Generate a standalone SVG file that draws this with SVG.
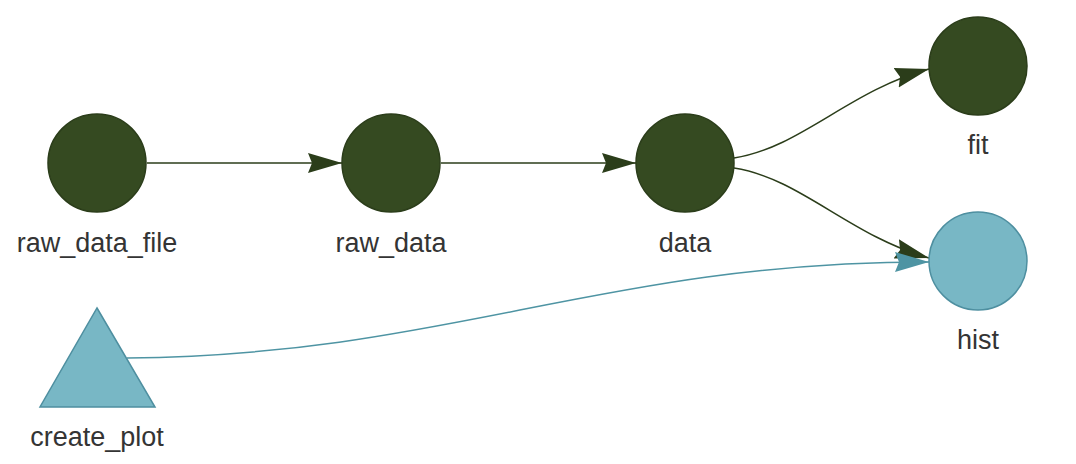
<svg xmlns="http://www.w3.org/2000/svg" width="1076" height="464" viewBox="0 0 1076 464">
<defs>
<style>
.lbl{font-family:"Liberation Sans",Arial,sans-serif;font-size:27px;fill:#343434;text-anchor:middle}
.dark{fill:#354A21;stroke:#2B3D1A;stroke-width:1.5}
.light{fill:#78B7C5;stroke:#4E8FA0;stroke-width:1.5}
.e-dark{fill:none;stroke:#2B3D1A;stroke-width:1.5}
.e-light{fill:none;stroke:#4E94A3;stroke-width:1.5}
</style>
<marker id="arrD" markerUnits="userSpaceOnUse" markerWidth="36" markerHeight="24" refX="34" refY="11" orient="auto">
<path d="M34,11 L0,1 L4,11 L0,21 Z" fill="#2B3D1A"/>
</marker>
<marker id="arrL" markerUnits="userSpaceOnUse" markerWidth="36" markerHeight="24" refX="34" refY="11" orient="auto">
<path d="M34,11 L0,1 L4,11 L0,21 Z" fill="#4E94A3"/>
</marker>
</defs>
<g id="edges">
<path class="e-dark" d="M147,163 L342,163" marker-end="url(#arrD)"/>
<path class="e-dark" d="M441,163 L636,163" marker-end="url(#arrD)"/>
<path class="e-dark" d="M734,158 C800,148 850,90 929,69" marker-end="url(#arrD)"/>
<path class="e-dark" d="M734,168 C800,178 850,236 929,258" marker-end="url(#arrD)"/>
<path class="e-light" d="M127,358 C450,355 600,262 929,262" marker-end="url(#arrL)"/>
</g>
<g id="raw_data_file"><circle class="dark" cx="97" cy="163" r="49"/><text class="lbl" x="97" y="252">raw_data_file</text></g>
<g id="raw_data"><circle class="dark" cx="391" cy="163" r="49"/><text class="lbl" x="391" y="252">raw_data</text></g>
<g id="data"><circle class="dark" cx="685" cy="163" r="49"/><text class="lbl" x="685" y="252">data</text></g>
<g id="fit"><circle class="dark" cx="978" cy="66" r="49"/><text class="lbl" x="978" y="154">fit</text></g>
<g id="hist"><circle class="light" cx="978" cy="261" r="49"/><text class="lbl" x="978" y="349">hist</text></g>
<g id="create_plot"><polygon class="light" points="97,308 155,407 40,407"/><text class="lbl" x="97" y="446">create_plot</text></g>
</svg>
